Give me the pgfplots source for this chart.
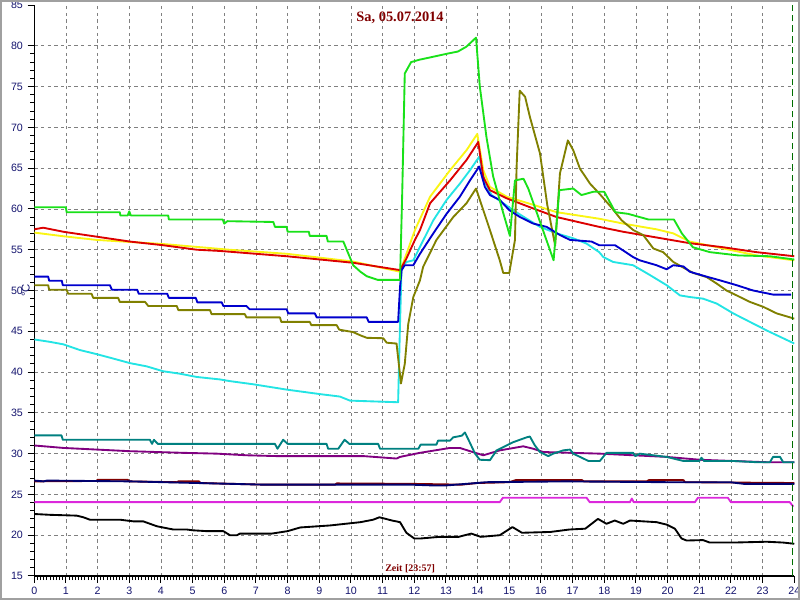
\documentclass[border=0pt]{standalone}
\usepackage{fontspec}
\setmainfont{Liberation Sans}
\newfontfamily\titlefont{Liberation Serif}
\usepackage{pgfplots}
\pgfplotsset{compat=1.18}
\definecolor{cgreen}{RGB}{25,225,25}
\definecolor{cred}{RGB}{220,0,0}
\definecolor{cyellow}{RGB}{250,245,20}
\definecolor{cblue}{RGB}{0,0,205}
\definecolor{colive}{RGB}{128,128,0}
\definecolor{ccyan}{RGB}{35,228,228}
\definecolor{cteal}{RGB}{0,128,128}
\definecolor{cpurple}{RGB}{128,0,128}
\definecolor{cnavy}{RGB}{0,0,110}
\definecolor{cdred}{RGB}{128,0,0}
\definecolor{cmag}{RGB}{220,40,220}
\definecolor{ticknavy}{RGB}{20,20,110}
\definecolor{titlered}{RGB}{128,0,0}
\definecolor{markgreen}{RGB}{0,110,0}
\definecolor{framegray}{RGB}{160,160,160}
\begin{document}
\begin{tikzpicture}[x=1pt,y=1pt]
\useasboundingbox (0,0) rectangle (600,450);
\begin{axis}[
  at={(25.7pt,18pt)}, anchor=south west,
  scale only axis, width=570pt, height=428.25pt,
  xmin=0, xmax=24, ymin=15, ymax=85,
  axis x line*=bottom, axis y line*=left,
  axis line style={black, line width=0.8pt},
  xtick={0,1,...,23}, ytick={15,20,...,80},
  extra x ticks={24}, extra y ticks={85},
  extra tick style={grid=none},
  minor x tick num=9, minor y tick num=4,
  tick align=outside,
  major tick length=5pt, minor tick length=3pt,
  every tick/.style={black, line width=0.75pt},
  grid=major,
  major grid style={color={rgb,255:red,128;green,128;blue,128}, dash pattern=on 2.5pt off 2.5pt, line width=0.6pt},
  ticklabel style={font=\fontsize{8}{9}\selectfont, text=ticknavy},
  /pgf/number format/assume math mode=true,
  clip mode=individual,
  every axis plot/.append style={line width=1.4pt, line join=round, mark=none},
]
% dark red (mostly under navy)
\addplot[cdred] coordinates {(0,26.6)(1.97,26.65)(2.0,26.8)(2.95,26.8)(3.0,26.6)(4.5,26.5)(4.55,26.6)(5.2,26.6)(5.25,26.4)(7.23,26.2)(9.5,26.2)(9.55,26.35)(11.86,26.3)(13.5,26.2)(14.0,26.4)(15.0,26.5)(15.2,26.75)(17.3,26.75)(17.35,26.6)(19.35,26.6)(19.4,26.75)(20.5,26.75)(20.55,26.5)(24,26.4)};
% navy
\addplot[cnavy] coordinates {(0,26.7)(0.3,26.6)(0.4,26.7)(3.02,26.6)(5.13,26.4)(7.23,26.2)(11.86,26.2)(12.6,26.1)(13.0,26.1)(13.65,26.3)(14.28,26.5)(16.8,26.6)(19.97,26.5)(21.97,26.5)(22.4,26.3)(24,26.3)};
% magenta
\addplot[cmag] coordinates {(0,24.05)(14.7,24.05)(14.8,24.6)(17.44,24.6)(17.54,24.05)(18.81,24.05)(18.87,24.5)(18.93,24.05)(20.86,24.05)(20.96,24.6)(21.9,24.6)(22.0,24.05)(23.86,24.05)(23.97,23.5)};
% black
\addplot[black] coordinates {(0,22.6)(0.5,22.5)(1.34,22.4)(1.55,22.2)(1.76,21.9)(2.71,21.9)(3.13,21.7)(3.44,21.7)(3.87,21.1)(4.39,20.7)(4.81,20.7)(5.02,20.6)(5.44,20.5)(5.97,20.5)(6.18,20.0)(6.4,20.0)(6.5,20.2)(7.5,20.2)(8.0,20.5)(8.4,20.95)(9.35,21.2)(10.3,21.6)(10.7,21.9)(10.9,22.2)(11.1,22.0)(11.3,21.8)(11.55,21.6)(11.75,20.3)(12.0,19.6)(12.2,19.6)(12.8,19.8)(13.4,19.8)(13.8,20.2)(14.1,19.8)(14.7,20.0)(15.1,21.0)(15.4,20.3)(16.3,20.4)(16.9,20.7)(17.4,20.8)(17.8,22.0)(18.07,21.4)(18.33,21.8)(18.6,21.4)(18.81,21.8)(19.65,21.6)(19.97,21.3)(20.23,20.8)(20.44,19.6)(20.6,19.35)(21.12,19.4)(21.33,19.1)(22.07,19.1)(23.13,19.2)(23.65,19.1)(24,18.95)};
% purple
\addplot[cpurple] coordinates {(0,31.0)(0.92,30.7)(3.02,30.3)(4.7,30.1)(5.76,30.0)(6.7,29.8)(7.65,29.7)(10.39,29.7)(11.44,29.4)(11.55,29.6)(12.18,30.1)(13.13,30.7)(13.44,30.7)(13.76,30.3)(14.18,29.8)(14.7,30.4)(15.44,30.9)(15.76,30.6)(16.07,30.2)(17.86,30.0)(19.97,29.6)(21.02,29.25)(22.07,29.1)(23.13,28.95)(24,28.95)};
% teal
\addplot[cteal] coordinates {(0,32.24)(0.86,32.24)(0.9,31.7)(3.65,31.7)(3.72,31.2)(3.78,31.7)(3.9,31.2)(7.6,31.2)(7.68,30.6)(7.86,31.7)(8.0,31.2)(9.23,31.2)(9.28,30.6)(9.6,30.6)(9.8,31.7)(9.95,31.2)(10.86,31.2)(10.92,30.6)(12.13,30.6)(12.2,31.1)(12.7,31.1)(12.75,31.6)(13.13,31.6)(13.23,32.0)(13.5,32.2)(13.6,32.6)(13.7,31.8)(13.92,30.0)(14.07,29.25)(14.39,29.2)(14.6,30.4)(14.81,30.8)(15.12,31.4)(15.55,32.0)(15.65,32.1)(15.81,31.0)(15.97,30.2)(16.23,29.7)(16.39,30.0)(16.7,30.4)(16.92,30.5)(17.02,30.0)(17.5,29.1)(17.86,29.1)(18.07,30.1)(18.91,30.1)(18.98,29.7)(19.12,30.0)(19.97,29.6)(20.5,29.1)(21.0,29.1)(21.07,29.5)(21.15,29.1)(22.07,29.1)(22.81,28.95)(23.23,28.95)(23.33,29.6)(23.55,29.6)(23.65,28.95)(24,28.95)};
% cyan
\addplot[ccyan] coordinates {(0,44.0)(0.5,43.7)(0.92,43.4)(1.44,42.7)(1.97,42.2)(2.5,41.65)(3.02,41.1)(3.55,40.7)(4.07,40.1)(4.6,39.8)(5.13,39.4)(5.86,39.1)(6.16,38.9)(6.92,38.5)(7.97,37.85)(9.02,37.3)(9.65,37.0)(9.97,36.5)(11.49,36.3)(11.55,45.9)(11.6,52.9)(11.76,53.5)(11.97,53.7)(12.18,55.35)(12.6,58.6)(13.02,61.1)(13.44,63.1)(13.76,64.75)(14.05,66.4)(14.23,63.3)(14.44,61.7)(14.81,60.7)(15.12,59.85)(15.55,58.8)(15.97,57.8)(16.5,57.0)(17.02,56.4)(17.44,55.75)(17.84,54.7)(17.97,54.1)(18.28,53.5)(18.91,53.1)(19.44,51.9)(19.97,50.65)(20.39,49.4)(20.7,49.2)(21.12,49.0)(21.55,48.4)(22.07,47.2)(22.6,46.15)(23.13,45.1)(24,43.5)};
% yellow
\addplot[cyellow] coordinates {(0,57.1)(0.92,56.65)(1.97,56.2)(4.07,55.7)(6.16,55.0)(7.97,54.5)(10.07,53.55)(11.55,52.3)(11.8,55.0)(12.02,57.4)(12.5,61.5)(13.13,64.75)(13.65,67.2)(13.99,69.2)(14.18,64.75)(14.39,62.7)(14.92,61.5)(15.76,60.5)(16.5,59.6)(17.84,58.8)(18.6,58.2)(19.65,57.5)(20.18,57.0)(20.7,56.0)(21.76,55.15)(22.81,54.3)(24,53.7)};
% red
\addplot[cred] coordinates {(0,57.5)(0.28,57.7)(0.92,57.2)(1.97,56.6)(3.02,56.0)(4.07,55.55)(5.13,55.0)(5.86,54.85)(7.97,54.2)(10.07,53.4)(11.55,52.5)(11.75,53.9)(12.02,56.2)(12.18,57.4)(12.5,60.7)(13.13,63.5)(13.65,66.0)(14.02,68.2)(14.18,63.9)(14.39,62.3)(14.92,61.3)(15.76,60.05)(16.5,59.0)(17.84,57.8)(18.6,57.2)(19.65,56.5)(20.7,55.8)(21.76,55.3)(22.81,54.7)(24,54.2)};
% olive
\addplot[colive] coordinates {(0,50.65)(0.44,50.65)(0.47,50.1)(1.02,50.1)(1.07,49.6)(1.81,49.6)(1.86,49.1)(2.65,49.1)(2.7,48.6)(3.5,48.6)(3.6,48.1)(4.5,48.1)(4.55,47.6)(5.55,47.6)(5.6,47.1)(6.65,47.1)(6.7,46.7)(7.76,46.7)(7.8,46.15)(8.7,46.15)(8.75,45.75)(9.55,45.75)(9.63,45.2)(10.07,44.9)(10.3,44.5)(10.5,44.2)(11.02,44.15)(11.13,43.6)(11.44,43.5)(11.58,38.6)(11.7,41.0)(11.81,45.9)(11.97,49.2)(12.18,51.25)(12.28,52.9)(12.7,56.2)(13.23,59.0)(13.65,60.7)(13.95,62.5)(14.18,59.85)(14.39,57.4)(14.7,53.7)(14.81,52.15)(15.0,52.15)(15.18,56.2)(15.23,65)(15.33,74.5)(15.5,73.75)(15.65,71.3)(15.97,66.8)(16.2,60.5)(16.45,55.5)(16.6,64.35)(16.85,68.4)(17.02,67.2)(17.23,64.95)(17.55,63.1)(17.84,61.9)(18.21,60.25)(18.55,58.6)(18.92,57.4)(19.23,56.8)(19.55,55.15)(19.86,54.7)(20.18,53.5)(20.5,52.8)(20.81,52.15)(21.23,51.65)(21.55,50.85)(21.86,50.0)(22.18,49.4)(22.6,48.6)(23.02,48.0)(23.44,47.2)(24,46.55)};
% blue
\addplot[cblue] coordinates {(0,51.7)(0.44,51.7)(0.47,51.2)(0.87,51.2)(0.9,50.65)(2.39,50.65)(2.45,50.1)(3.25,50.1)(3.3,49.6)(4.2,49.6)(4.25,49.1)(5.1,49.1)(5.15,48.55)(5.92,48.55)(5.97,48.1)(6.7,48.1)(6.8,47.7)(7.97,47.7)(8.02,47.2)(8.86,47.2)(8.92,46.7)(10.5,46.7)(10.56,46.15)(11.49,46.15)(11.55,50.4)(11.6,52.5)(11.7,53.1)(11.97,53.1)(12.18,54.5)(12.6,57.0)(13.02,59.4)(13.44,61.5)(13.76,63.5)(14.05,65.2)(14.23,62.7)(14.39,61.7)(14.7,61.1)(15.0,59.85)(15.34,59.0)(15.76,58.2)(16.18,57.8)(16.6,56.8)(16.92,56.2)(17.6,56.0)(17.84,55.55)(18.34,55.55)(18.6,54.9)(18.91,54.1)(19.12,53.7)(19.65,53.1)(19.97,52.6)(20.18,53.1)(20.5,52.95)(20.7,52.3)(21.23,51.7)(21.65,51.25)(22.18,50.65)(22.7,50.0)(23.33,49.5)(23.9,49.5)};
% green
\addplot[cgreen] coordinates {(0,60.2)(1.0,60.2)(1.02,59.6)(2.7,59.6)(2.72,59.2)(2.95,59.2)(3.0,59.7)(3.05,59.2)(4.23,59.2)(4.25,58.7)(5.95,58.7)(6.0,58.2)(6.1,58.5)(7.55,58.4)(7.6,57.8)(7.97,57.8)(8.0,57.2)(8.67,57.2)(8.7,56.7)(9.23,56.7)(9.27,56.0)(9.76,56.0)(10.07,53.1)(10.3,52.3)(10.5,51.75)(10.85,51.3)(11.55,51.3)(11.62,62)(11.7,76.6)(11.9,78.0)(12.17,78.3)(12.65,78.7)(13.0,79.0)(13.38,79.3)(13.65,79.9)(13.95,81.0)(14.07,75)(14.28,68.8)(14.49,64)(14.81,59.5)(15.02,56.7)(15.18,63.5)(15.45,63.7)(15.6,62.5)(16.4,53.7)(16.58,62.3)(17.02,62.5)(17.28,61.7)(17.65,62.1)(18.0,62.1)(18.35,59.6)(18.75,59.4)(19.4,58.7)(20.2,58.7)(20.45,57.0)(20.8,55.3)(21.34,54.7)(22.23,54.3)(23.23,54.2)(24,53.8)};
% current time marker
\addplot[markgreen, line width=1pt, dash pattern=on 5pt off 3pt] coordinates {(23.95,15)(23.95,85)};
\node[font=\titlefont\bfseries\fontsize{10.8}{12}\selectfont, text=titlered] at (axis cs:11.55,83.45) {Sa, 05.07.2014};
\node[font=\titlefont\bfseries\fontsize{7.5}{8}\selectfont, text=titlered] at (axis cs:11.87,15.95) {Zeit [23:57]};
\node[rotate=90, font=\fontsize{8.5}{9}\selectfont, text=ticknavy] at ([xshift=-6.5pt] rel axis cs:0,0.5) {°C};
\end{axis}
\draw[framegray, line width=1.5pt] (0.75,0.75) rectangle (599.25,449.25);
\end{tikzpicture}
\end{document}
